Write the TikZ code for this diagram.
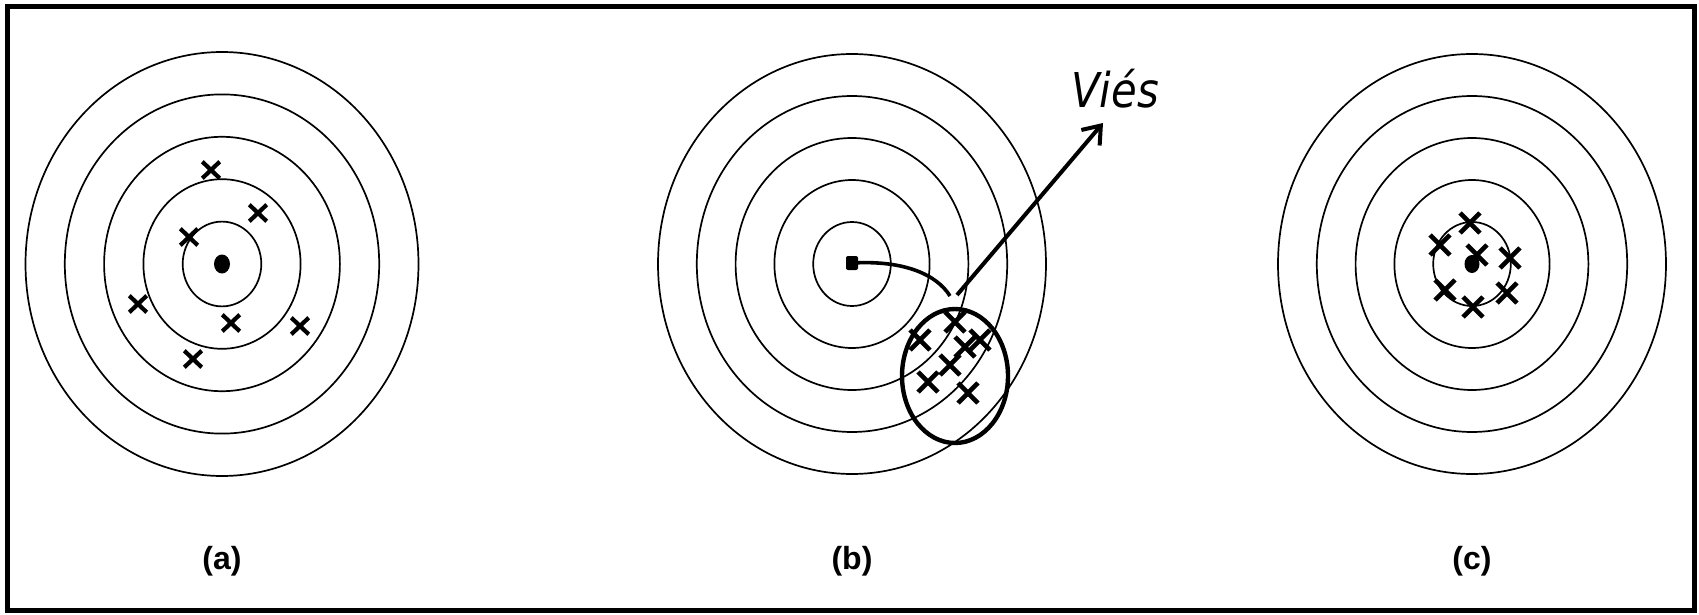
\documentclass[tikz,border=0pt]{standalone}
\usepackage{fontspec}
\setmainfont{Liberation Sans}
\newfontfamily\viesfont[FakeStretch=0.87]{DejaVu Sans}
\usetikzlibrary{arrows.meta,shapes.misc,shapes.geometric}
\begin{document}
\begin{tikzpicture}[x=0.5pt,y=-0.5pt,
  ring/.style={line width=0.85pt},
  hit/.style={cross out,draw,line width=2.1pt,minimum width=6.6pt,minimum height=6.2pt,inner sep=0pt},
  bighit/.style={hit,line width=2.3pt,minimum width=7.6pt,minimum height=7.8pt},
  lab/.style={font=\bfseries\fontsize{16}{19}\selectfont,inner sep=0pt},
  bold/.style={line width=1.8pt}
]
\useasboundingbox (0,0) rectangle (1699,615);
\draw[line width=2.5pt] (7.5,7) rectangle (1694.5,610);

% ---------- panel (a)
\coordinate (ca) at (222,264);
\foreach \k in {1,...,5}
  \draw[ring] (ca) ellipse [x radius=39.3*\k, y radius=42.4*\k];
\node[fill=black,ellipse,inner sep=0pt,minimum width=8pt,minimum height=9.5pt] (adot) at (ca) {};
\node[hit] (a1) at (211,170) {};
\node[hit] (a2) at (258,213) {};
\node[hit] (a3) at (189,237) {};
\node[hit] (a4) at (138,304) {};
\node[hit] (a5) at (231,323) {};
\node[hit] (a6) at (300,326) {};
\node[hit] (a7) at (193,359) {};
\node[lab] (la) at (222,561) {(a)};

% ---------- panel (b)
\coordinate (cb) at (852,264);
\foreach \k in {1,...,5}
  \draw[ring] (cb) ellipse [x radius=38.8*\k, y radius=42*\k];
\node[fill=black,rectangle,rounded corners=1pt,inner sep=0pt,minimum width=6pt,minimum height=7pt] (bdot) at (852,263) {};
\node[draw,ellipse,line width=2.2pt,minimum width=53pt,minimum height=67pt,inner sep=0pt] (grp) at (955,376) {};
\node[bighit] (b1) at (955,322) {};
\node[bighit] (b2) at (920,340) {};
\node[bighit] (b3) at (965,347) {};
\node[bighit] (b4) at (980,340) {};
\node[bighit] (b5) at (950,365) {};
\node[bighit] (b6) at (928,382) {};
\node[bighit] (b7) at (968,393) {};
\coordinate (bin) at (950,296);
\coordinate (bout) at (957,295);
\coordinate (tip) at (1103,123);
\draw[bold] (bdot.center) .. controls (905,260) and (937,275) .. (bin);
\draw[line width=2pt,-{Straight Barb[length=8pt,width=12pt,line width=2pt]}] (bout) -- (tip);
\node[font=\viesfont\itshape\fontsize{24}{28}\selectfont,anchor=base,inner sep=0pt] (vies) at (1115,108) {Viés};
\node[lab] (lb) at (852,561) {(b)};

% ---------- panel (c)
\coordinate (cc) at (1472,264);
\foreach \k in {1,...,5}
  \draw[ring] (cc) ellipse [x radius=38.8*\k, y radius=42*\k];
\node[fill=black,ellipse,inner sep=0pt,minimum width=7.5pt,minimum height=9pt] (cdot) at (1472,264) {};
\node[bighit] (c1) at (1470,223) {};
\node[bighit] (c2) at (1440,245) {};
\node[bighit] (c3) at (1477,255) {};
\node[bighit] (c4) at (1510,258) {};
\node[bighit] (c5) at (1445,290) {};
\node[bighit] (c6) at (1507,293) {};
\node[bighit] (c7) at (1473,307) {};
\node[lab] (lc) at (1472,561) {(c)};
\end{tikzpicture}
\end{document}
